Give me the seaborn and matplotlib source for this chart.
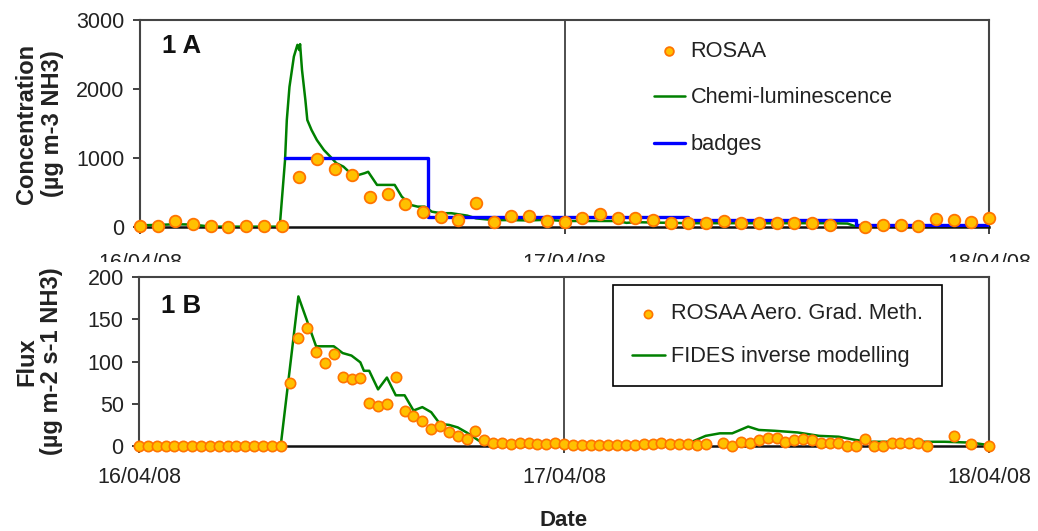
import numpy as np
import pandas as pd
import matplotlib
matplotlib.use('Agg')
import matplotlib.pyplot as plt
from matplotlib.patches import Rectangle
import seaborn as sns

sns.set_theme(style='white')
plt.rcParams['font.family'] = ['Liberation Sans', 'DejaVu Sans']

# x axis: hours since 16/04/08 00:00
date_hours = [0, 24, 48]
date_labels = ['16/04/08', '17/04/08', '18/04/08']

# ---- panel 1A : concentration (ug m-3 NH3) ----
rosaa_conc_hours = np.arange(0, 49, 1.0)
rosaa_conc = [20, 20, 85, 50, 15, 5, 10, 10, 10,
              728, 990, 835, 752, 437, 485, 330, 214, 146, 107, 354, 78, 160, 160, 85,
              77, 135, 184, 135, 126, 101, 53, 53, 53, 87, 53, 53, 53, 53, 53, 34,
              np.nan, 5, 34, 24, 14, 111, 101, 72, 135]

chemi_hours = [0, 1, 2, 3, 3.5, 4, 5, 6, 7, 7.9, 8.2, 8.3, 8.45, 8.7, 8.9, 9.0, 9.05,
               9.16, 9.35, 9.46, 9.7, 10.0, 10.4, 10.76, 11.1, 11.5, 11.9, 12.3, 12.7,
               12.9, 13.4, 13.8, 14.4, 14.8, 15.3, 15.7, 16.1, 16.5, 17, 17.6, 18.5, 19,
               20, 21, 22, 23, 24, 25, 26, 27, 27.5, 28, 29, 30, 31, 33, 35, 37, 39, 40,
               40.5, 42, 44, 46, 48]
chemi_conc = [25, 30, 40, 35, 20, 5, 5, 5, 5, 5, 970, 1550, 2030, 2470, 2640, 2565, 2650,
              2275, 1840, 1550, 1405, 1260, 1115, 1020, 925, 875, 780, 750, 780,
              800, 610, 610, 610, 440, 320, 295, 295, 222, 200, 200, 165, 125,
              100, 100, 95, 105, 87, 87, 87, 87, 60, 70, 65, 60, 55, 55, 55, 55, 55, 50,
              5, 5, 5, 5, 5]

badge_hours = [8.2, 16.3, 31, 40.5, 48]
badge_conc = [1000, 150, 105, 35, 35]

# ---- panel 1B : flux (ug m-2 s-1 NH3) ----
rosaa_flux_hours = np.arange(0, 48.5, 0.5)
rosaa_flux = [0] * 17 + [
    75, 128, 140, 111, 98, 109, 82, 79, 81, 51, 47, 50, 82, 41, 36, 30, 20, 24, 16,
    12, 8, 18, 7, 4, 4, 2, 3, 3, 2, 2, 4,
    2, 1, 1, 1, 1, 1, 1, 1, 1, 2, 2, 3, 2, 2,
    2, 1, 2, np.nan, 4, 0, 5, 3, 7, 9, 9, 5, 7, 8, 7, 4, 4, 3, 0, 0, 8, 0, 0,
    3, 3, 3, 3, 0, np.nan, np.nan, 12, np.nan, 2, np.nan, 0]

fides_hours = [0, 8, 9.0, 10, 11, 11.5, 12, 12.5, 12.7, 13, 13.5, 14, 14.5, 15, 15.5, 16,
               16.5, 17, 17.5, 18, 18.5, 19, 19.5, 20, 31, 32, 32.8, 33.5, 34.4, 35,
               35.9, 37.2, 38.4, 39.5, 40.5, 41.3, 44.6, 45.5, 47, 48]
fides_flux = [0, 0, 177, 118, 118, 110, 107, 99, 89, 89, 67, 81, 60, 60, 42, 46,
              40, 26, 25, 22, 16, 9, 2, 0, 3, 12, 15, 15, 23, 19,
              18, 16, 12, 11, 7, 5, 5, 5, 4, 1]

ORANGE_FACE = '#FFC000'
ORANGE_EDGE = '#FF7400'
GREEN = '#008000'
BLUE = '#0000FF'
TXT = '#222222'

W, H = 1038, 531
fig = plt.figure(figsize=(W / 100, H / 100), dpi=100)
ax1 = fig.add_axes([140 / W, 1 - 227 / H, 849 / W, 207 / H])
ax2 = fig.add_axes([139 / W, 1 - 446 / H, 850 / W, 169 / H])
ax1.set_zorder(0)
ax2.set_zorder(2)

conc_df = pd.DataFrame({'hour': rosaa_conc_hours, 'conc': rosaa_conc}).dropna()
flux_df = pd.DataFrame({'hour': rosaa_flux_hours, 'flux': rosaa_flux}).dropna()

# panel A
sns.lineplot(x=chemi_hours, y=chemi_conc, ax=ax1, color=GREEN, lw=1.8,
             label='Chemi-luminescence', sort=False, estimator=None, zorder=3)
sns.lineplot(x=badge_hours, y=badge_conc, ax=ax1, color=BLUE, lw=2.4,
             drawstyle='steps-post', label='badges', sort=False, estimator=None, zorder=3)
sns.scatterplot(data=conc_df, x='hour', y='conc', ax=ax1, s=70, color=ORANGE_FACE,
                edgecolor=ORANGE_EDGE, linewidth=1.3, clip_on=False, zorder=5,
                label='ROSAA')

# panel B
sns.lineplot(x=fides_hours, y=fides_flux, ax=ax2, color=GREEN, lw=1.8,
             label='FIDES inverse modelling', sort=False, estimator=None, zorder=3)
sns.scatterplot(data=flux_df, x='hour', y='flux', ax=ax2, s=55, color=ORANGE_FACE,
                edgecolor=ORANGE_EDGE, linewidth=1.2, clip_on=False, zorder=5,
                label='ROSAA Aero. Grad. Meth.')

ax1.set_ylim(0, 3000)
ax1.set_yticks([0, 1000, 2000, 3000])
ax2.set_ylim(0, 200)
ax2.set_yticks([0, 50, 100, 150, 200])

for ax in (ax1, ax2):
    ax.set_xlim(0, 48)
    ax.set_xticks(date_hours)
    ax.set_xticklabels(date_labels)
    ax.grid(False)
    ax.grid(axis='x', color='#404040', lw=1.3)
    ax.set_axisbelow(True)
    for side in ('top', 'right', 'left'):
        ax.spines[side].set_color('#444444')
        ax.spines[side].set_linewidth(1.5)
    ax.spines['bottom'].set_color('#111111')
    ax.spines['bottom'].set_linewidth(1.8)
    ax.tick_params(axis='both', direction='out', length=5, width=1.3, color='#333333',
                   labelcolor=TXT, labelsize=15.5, left=True, bottom=True)
    ax.tick_params(axis='y', pad=6)
    ax.set_xlabel('')

ax1.tick_params(axis='x', pad=14)
ax2.tick_params(axis='x', pad=10)

ax1.set_ylabel('Concentration\n(µg m-3 NH3)', fontsize=17, fontweight='bold',
               color=TXT, linespacing=1.12)
ax1.yaxis.set_label_coords(-0.090, 0.5)
ax2.set_ylabel('Flux\n(µg m-2 s-1 NH3)', fontsize=17, fontweight='bold',
               color=TXT, linespacing=1.12)
ax2.yaxis.set_label_coords(-0.089, 0.5)
ax2.set_xlabel('Date', fontsize=16, fontweight='bold', color=TXT)
ax2.xaxis.set_label_coords(0.5, -0.38)

ax1.text(0.026, 0.875, '1 A', transform=ax1.transAxes, fontsize=18.5,
         fontweight='bold', va='center', color='#111111')
ax2.text(0.026, 0.83, '1 B', transform=ax2.transAxes, fontsize=18.5,
         fontweight='bold', va='center', color='#111111')

# legends
h, l = ax1.get_legend_handles_labels()
order = [l.index('ROSAA'), l.index('Chemi-luminescence'), l.index('badges')]
leg1 = ax1.legend([h[i] for i in order], [l[i] for i in order], loc='upper left',
                  bbox_to_anchor=(0.605, 0.90), frameon=False, fontsize=15.7,
                  labelspacing=1.18, handlelength=1.45, handletextpad=0.25,
                  borderpad=0, borderaxespad=0, markerscale=0.75)
for t in leg1.get_texts():
    t.set_color(TXT)

h, l = ax2.get_legend_handles_labels()
order = [l.index('ROSAA Aero. Grad. Meth.'), l.index('FIDES inverse modelling')]
leg2 = ax2.legend([h[i] for i in order], [l[i] for i in order], loc='upper left',
                  bbox_to_anchor=(0.558, 0.953), frameon=True, fancybox=False,
                  edgecolor='black', fontsize=15.7, labelspacing=1.0, handlelength=1.5,
                  handletextpad=0.3, borderpad=0.85, borderaxespad=0, markerscale=0.8)
leg2.get_frame().set_linewidth(1.2)
leg2.get_frame().set_alpha(1)
for t in leg2.get_texts():
    t.set_color(TXT)

# the top panel's date labels are cut off by the lower panel in the original
fig.add_artist(Rectangle((0, 1 - 276 / H), 1, 14 / H, transform=fig.transFigure,
                         facecolor='white', edgecolor='none', zorder=1))

fig.savefig('out.png', dpi=100)
